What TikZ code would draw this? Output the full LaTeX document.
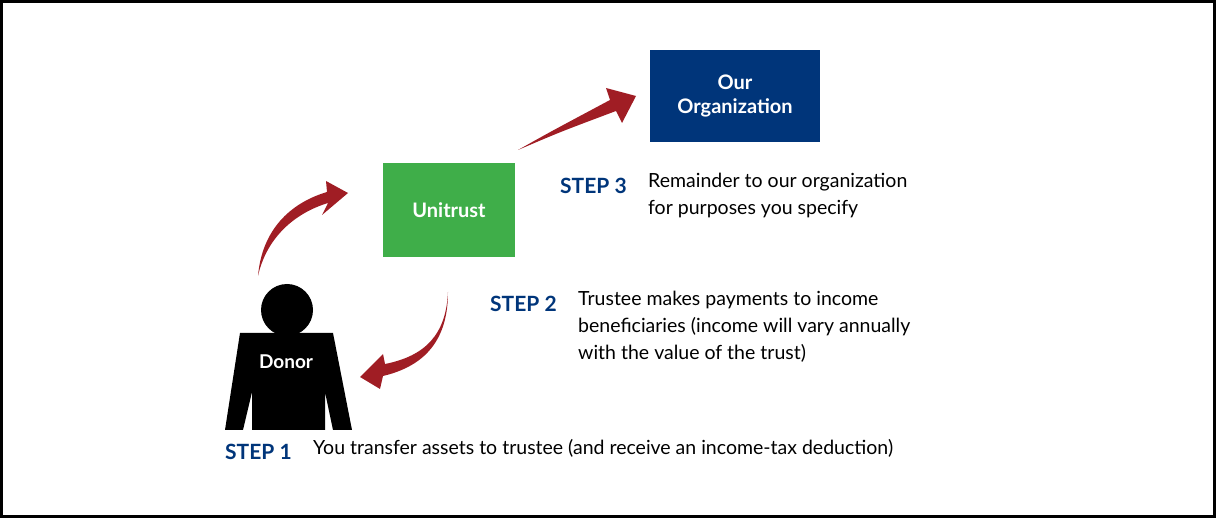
\documentclass[tikz,border=0pt]{standalone}
\usepackage{fontspec}
\setmainfont{Lato}
\definecolor{navy}{RGB}{0,53,122}
\definecolor{grn}{RGB}{63,174,73}
\definecolor{arr}{RGB}{160,29,36}
\begin{document}
\begin{tikzpicture}[x=1pt,y=-1pt,
  box/.style={fill=#1,text=white,font=\bfseries\fontsize{20}{24}\selectfont,align=center,inner sep=0},
  steplbl/.style={anchor=base west,text=navy,font=\bfseries\fontsize{21}{25}\selectfont,inner sep=0},
  desc/.style={anchor=north west,align=left,font=\fontsize{19.5}{27}\selectfont,inner sep=0}]
\useasboundingbox (0,0) rectangle (1216,518);
\draw[line width=3pt] (1.5,1.5) rectangle (1214.5,516.5);
% boxes
\node[box=navy,minimum width=170,minimum height=92] (org) at (735,96) {Our\\Organization};
\node[box=grn,minimum width=132,minimum height=94] (uni) at (449,210) {Unitrust};
% donor
\fill (287,310) circle (26);
\fill (240,333) -- (333,333) -- (352,430) -- (333,430) -- (325,392) -- (325,430) -- (252,430) -- (252,392) -- (243,430) -- (225,430) -- cycle;
\node[text=white,font=\bfseries\fontsize{19}{22}\selectfont,inner sep=0] (don) at (286,362) {Donor};
% arrows
\fill[arr] (258,276) .. controls (262,230) and (290,203) .. (327,192) -- (326,181) -- (348,193) -- (322,215) -- (328,203) .. controls (292,214) and (266,240) .. (258,276) -- cycle;
\fill[arr] (448,292) .. controls (446,335) and (425,356) .. (385,364) -- (383,354) -- (360,377) -- (380,389) -- (383,376) .. controls (425,366) and (448,340) .. (448,292) -- cycle;
\fill[arr] (518,150) .. controls (550,132) .. (610,100) -- (606,88) -- (636,96) -- (622,123) -- (616,111) .. controls (560,132) .. (518,150) -- cycle;
% texts
\node[steplbl] (s3) at (560,194) {STEP 3};
\node[desc] (t3) at (648,173) {Remainder to our organization\\for purposes you specify};
\node[steplbl] (s2) at (490,312) {STEP 2};
\node[desc] (t2) at (578,291) {Trustee makes payments to income\\beneficiaries (income will vary annually\\with the value of the trust)};
\node[steplbl] (s1) at (225,460) {STEP 1};
\node[desc] (t1) at (313,439) {You transfer assets to trustee (and receive an income-tax deduction)};
\end{tikzpicture}
\end{document}
